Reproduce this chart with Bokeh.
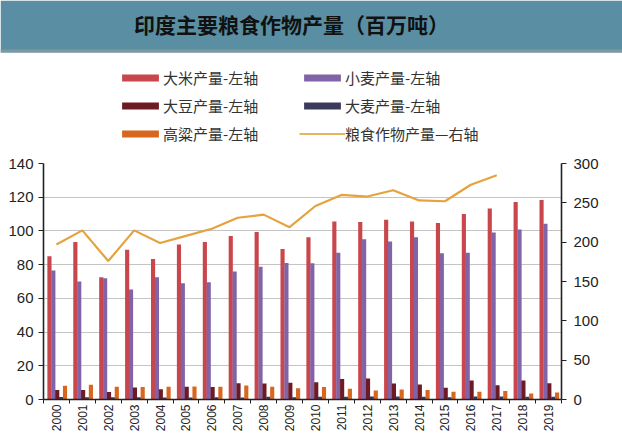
import math
from bokeh.plotting import figure
from bokeh.models import (ColumnDataSource, LinearAxis, Range1d, FixedTicker,
                          Legend, LegendItem)
from bokeh.transform import dodge
from bokeh.layouts import column
from bokeh.core.properties import value
from bokeh.embed import file_html
from bokeh.resources import INLINE

# ---------------- data ----------------
years = list(range(2000, 2020))
rice = [85.0, 93.5, 72.5, 88.8, 83.3, 92.0, 93.4, 97.0, 99.4, 89.3, 96.3, 105.6,
        105.3, 106.7, 105.6, 104.7, 110.0, 113.3, 117.2, 118.3]
wheat = [76.5, 70.0, 72.0, 65.3, 72.5, 69.0, 69.6, 75.9, 78.8, 81.0, 80.8, 87.0,
         95.0, 93.7, 96.2, 86.8, 87.1, 99.0, 100.9, 104.2]
soybean = [5.7, 5.7, 4.4, 7.1, 6.1, 7.6, 7.4, 9.7, 9.5, 9.9, 10.2, 12.2,
           12.4, 9.5, 8.9, 7.0, 11.2, 8.5, 11.2, 9.7]
barley = [1.5, 1.4, 1.4, 1.4, 1.2, 1.2, 1.3, 1.2, 1.7, 1.4, 1.7, 1.6,
          1.8, 1.8, 1.6, 1.4, 1.8, 1.8, 1.6, 1.7]
sorghum = [8.2, 8.7, 7.5, 7.4, 7.6, 7.7, 7.6, 8.3, 7.6, 6.6, 7.4, 6.4,
           5.4, 6.0, 5.6, 4.6, 4.6, 5.0, 3.5, 4.1]
grain_years = list(range(2000, 2018))
grain_total = [197, 215, 176, 215, 199, 208, 217, 231, 235, 219, 246, 260,
               258, 266, 253, 252, 273, 285]

left_ticks = [0, 20, 40, 60, 80, 100, 120, 140]
right_ticks = [0, 50, 100, 150, 200, 250, 300]

title_text = "印度主要粮食作物产量（百万吨）"
series_labels = ["大米产量-左轴", "小麦产量-左轴", "大豆产量-左轴",
                 "大麦产量-左轴", "高粱产量-左轴", "粮食作物产量—右轴"]

# ---------------- styles ----------------
CJK = "Noto Sans CJK SC"
LAT = "Liberation Sans"
C_RICE = "#c8464c"
C_WHEAT = "#8164a8"
C_SOY = "#6e1a24"
C_BARLEY = "#3b3a5c"
C_SORG = "#d8661e"
C_LINE = "#e6a23c"
AXIS_C = "#222222"
HEAD_H = 154

# ---------------- header: banner + legend ----------------
head = figure(width=622, height=HEAD_H, x_range=(0, 622), y_range=(0, HEAD_H),
              toolbar_location=None, output_backend="svg", min_border=0,
              frame_align=False)
head.axis.visible = False
head.grid.visible = False
head.outline_line_color = None
head.background_fill_color = "white"
head.border_fill_color = "white"
head.quad(left=0, right=622, bottom=HEAD_H - 52, top=HEAD_H,
          fill_color="#5a8ea2", line_color=None)
head.quad(left=0, right=622, bottom=HEAD_H - 52, top=HEAD_H - 49,
          fill_color="#7f979f", line_color=None)
head.text(x=[291], y=[HEAD_H - 23], text=[title_text], text_font=value(CJK),
          text_font_size="21px", text_font_style="bold", text_color="#111111",
          text_align="center", text_baseline="middle")

# legend proxies (off-frame, zero-size; only their styles are used by the legend)
proxy = ColumnDataSource(dict(x=[-50], y=[0]))
k_rice = head.vbar(x="x", top="y", width=1, source=proxy, fill_color=C_RICE, line_color=None)
k_wheat = head.vbar(x="x", top="y", width=1, source=proxy, fill_color=C_WHEAT, line_color=None)
k_soy = head.vbar(x="x", top="y", width=1, source=proxy, fill_color=C_SOY, line_color=None)
k_barley = head.vbar(x="x", top="y", width=1, source=proxy, fill_color=C_BARLEY, line_color=None)
k_sorg = head.vbar(x="x", top="y", width=1, source=proxy, fill_color=C_SORG, line_color=None)
k_line = head.line(x="x", y="y", source=proxy, line_color="#e9b45e", line_width=2)

# column-major order: col1 = rice, soybean, sorghum ; col2 = wheat, barley, total
items = [
    LegendItem(label=series_labels[0], renderers=[k_rice]),
    LegendItem(label=series_labels[2], renderers=[k_soy]),
    LegendItem(label=series_labels[4], renderers=[k_sorg]),
    LegendItem(label=series_labels[1], renderers=[k_wheat]),
    LegendItem(label=series_labels[3], renderers=[k_barley]),
    LegendItem(label=series_labels[5], renderers=[k_line]),
]
legend = Legend(items=items, ncols=2, location=(117, 10),
                glyph_width=46, glyph_height=9, label_standoff=0,
                label_width=129, label_height=20, spacing=7, padding=3,
                margin=0, border_line_color=None, background_fill_alpha=0,
                label_text_font=CJK, label_text_font_size="15px",
                label_text_color="#333333")
head.add_layout(legend, "center")

# ---------------- main chart ----------------
p = figure(width=622, height=434 - HEAD_H, x_range=Range1d(1999.5, 2019.5),
           y_range=Range1d(0, 140), toolbar_location=None, output_backend="svg",
           min_border_left=43, min_border_right=61, min_border_top=9,
           min_border_bottom=0, frame_align=False)
p.extra_y_ranges = {"right": Range1d(0, 300)}
p.outline_line_color = None
p.background_fill_color = "white"
p.border_fill_color = "white"

src = ColumnDataSource(dict(year=years, rice=rice, wheat=wheat, soybean=soybean,
                            barley=barley, sorghum=sorghum))
W = 0.16
p.vbar(x=dodge("year", -0.27, range=p.x_range), top="rice", width=W,
       source=src, fill_color=C_RICE, line_color=None)
p.vbar(x=dodge("year", -0.12, range=p.x_range), top="wheat", width=W,
       source=src, fill_color=C_WHEAT, line_color=None)
p.vbar(x=dodge("year", 0.03, range=p.x_range), top="soybean", width=W,
       source=src, fill_color=C_SOY, line_color=None)
p.vbar(x=dodge("year", 0.18, range=p.x_range), top="barley", width=W,
       source=src, fill_color=C_BARLEY, line_color=None)
p.vbar(x=dodge("year", 0.33, range=p.x_range), top="sorghum", width=W,
       source=src, fill_color=C_SORG, line_color=None)
p.line(grain_years, grain_total, y_range_name="right",
       line_color=C_LINE, line_width=2.2)

# axes
p.yaxis.ticker = FixedTicker(ticks=left_ticks)
p.ygrid.ticker = FixedTicker(ticks=left_ticks)
p.ygrid.grid_line_color = "#c4c4c4"
p.xgrid.visible = False

right_axis = LinearAxis(y_range_name="right", ticker=FixedTicker(ticks=right_ticks))
p.add_layout(right_axis, "right")

for ax in [p.yaxis[0], right_axis]:
    ax.axis_line_color = AXIS_C
    ax.axis_line_width = 1.6
    ax.major_tick_line_color = AXIS_C
    ax.major_tick_out = 5
    ax.major_tick_in = 0
    ax.minor_tick_line_color = None
    ax.major_label_text_font = LAT
    ax.major_label_text_font_size = "15px"
    ax.major_label_text_color = AXIS_C
p.yaxis[0].major_label_standoff = 5
right_axis.major_label_standoff = 7

xa = p.xaxis[0]
xa.ticker = FixedTicker(ticks=years, minor_ticks=[y - 0.5 for y in years] + [2019.5])
xa.major_label_overrides = {y: str(y) for y in years}
xa.major_tick_out = 0
xa.major_tick_in = 0
xa.minor_tick_out = 4
xa.minor_tick_in = 0
xa.minor_tick_line_color = AXIS_C
xa.axis_line_color = AXIS_C
xa.axis_line_width = 1.6
xa.major_label_orientation = math.pi / 2
xa.major_label_standoff = 1
xa.major_label_text_font = LAT
xa.major_label_text_font_size = "12px"
xa.major_label_text_color = AXIS_C

layout = column(head, p, spacing=0)
open("out.html", "w").write(file_html(layout, INLINE))
